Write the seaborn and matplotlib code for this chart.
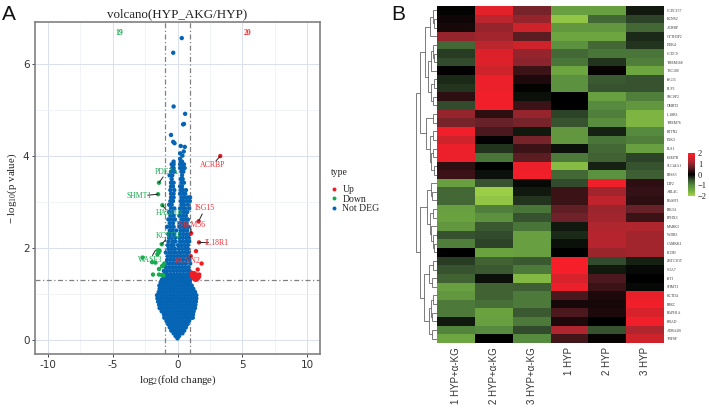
import matplotlib
matplotlib.use("Agg")
import matplotlib.pyplot as plt
from matplotlib.colors import LinearSegmentedColormap
import numpy as np
import pandas as pd
import seaborn as sns

sns.set_theme(style="white")
plt.rcParams["font.family"] = ["Liberation Serif", "DejaVu Serif"]
plt.rcParams["mathtext.fontset"] = "custom"
plt.rcParams["mathtext.rm"] = "Liberation Serif"
plt.rcParams["mathtext.it"] = "Liberation Serif"

# ---------- volcano data ----------
nd_levels = [0.03, 0.08, 0.14, 0.20, 0.27, 0.34, 0.41, 0.48, 0.55, 0.62, 0.69, 0.76, 0.83, 0.90, 0.97, 1.04, 1.11,
             1.18, 1.25, 1.31, 1.36, 1.42, 1.50, 1.58, 1.66, 1.74, 1.82, 1.90, 1.98, 2.06, 2.14, 2.22, 2.30, 2.38,
             2.46, 2.54, 2.62, 2.70, 2.78, 2.86, 2.94, 3.02, 3.10, 3.18, 3.26, 3.34, 3.42, 3.50, 3.58, 3.66, 3.74,
             3.82, 3.88, 3.94, 4.01, 4.06, 4.10, 4.20, 4.22, 4.28, 4.31, 4.46, 4.69, 4.70, 4.92, 5.08, 6.25, 6.57]
nd_x = [
    [0.00],
    [-0.15, 0.12],
    [-0.30, -0.05, 0.20, 0.38],
    [-0.48, -0.22, 0.03, 0.28, 0.52],
    [-0.60, -0.35, -0.10, 0.15, 0.40, 0.65],
    [-0.72, -0.47, -0.22, 0.03, 0.28, 0.53, 0.78],
    [-0.85, -0.60, -0.35, -0.10, 0.15, 0.40, 0.65, 0.90],
    [-1.02, -0.72, -0.47, -0.22, 0.03, 0.28, 0.53, 0.78, 1.03, 1.18],
    [-1.05, -0.80, -0.55, -0.30, -0.05, 0.20, 0.45, 0.70, 0.95, 1.20],
    [-1.22, -1.00, -0.90, -0.65, -0.40, -0.15, 0.10, 0.35, 0.60, 0.85, 1.10, 1.25],
    [-1.38, -1.22, -0.97, -0.72, -0.47, -0.22, 0.03, 0.28, 0.53, 0.78, 1.03, 1.28, 1.35],
    [-1.42, -1.28, -1.05, -0.80, -0.55, -0.30, -0.05, 0.20, 0.45, 0.70, 0.95, 1.20, 1.38],
    [-1.50, -1.35, -1.12, -0.87, -0.62, -0.37, -0.12, 0.13, 0.38, 0.63, 0.88, 1.13, 1.38, 1.42],
    [-1.55, -1.45, -1.20, -0.95, -0.70, -0.45, -0.20, 0.05, 0.30, 0.55, 0.80, 1.05, 1.30, 1.45],
    [-1.58, -1.50, -1.25, -1.00, -0.75, -0.50, -0.25, 0.00, 0.25, 0.50, 0.75, 1.00, 1.25, 1.45],
    [-1.45, -1.30, -1.05, -0.80, -0.55, -0.30, -0.05, 0.20, 0.45, 0.70, 0.95, 1.20, 1.35],
    [-1.38, -1.22, -0.97, -0.72, -0.47, -0.22, 0.03, 0.28, 0.53, 0.78, 1.03, 1.22],
    [-1.40, -1.15, -0.90, -0.65, -0.40, -0.15, 0.10, 0.35, 0.60, 0.85, 1.10],
    [-1.30, -1.05, -0.80, -0.55, -0.30, -0.05, 0.20, 0.45, 0.70, 0.95],
    [-1.20, -0.95, -0.70, -0.45, -0.20, 0.05, 0.30, 0.55, 0.80, 0.98],
    [-1.05, -0.80, -0.55, -0.30, -0.05, 0.20, 0.45, 0.70, 0.95],
    [-0.95, -0.75, -0.50, -0.25, 0.00, 0.25, 0.50, 0.75, 0.95],
    [-1.05, -0.80, -0.55, -0.30, -0.05, 0.20, 0.45, 0.70, 0.92],
    [-0.90, -0.65, -0.40, -0.15, 0.10, 0.35, 0.60, 0.85],
    [-0.85, -0.60, -0.35, -0.10, 0.15, 0.40, 0.65, 0.98],
    [-0.80, -0.55, -0.30, -0.05, 0.20, 0.45, 0.70, 0.90],
    [-0.75, -0.50, -0.25, 0.00, 0.25, 0.50, 0.75],
    [-0.90, -0.60, -0.35, -0.12, 0.15, 0.40, 0.65, 0.85],
    [-0.70, -0.45, -0.20, 0.10, 0.35, 0.60, 0.80],
    [-0.75, -0.50, -0.30, 0.05, 0.30, 0.55, 0.80],
    [-0.70, -0.40, -0.15, 0.20, 0.45, 0.70, 0.90],
    [-0.65, -0.45, -0.20, 0.15, 0.40, 0.65, 0.85],
    [-0.70, -0.50, -0.25, 0.20, 0.45, 0.70, 0.95],
    [-0.60, -0.40, -0.10, 0.25, 0.50, 0.75],
    [-0.80, -0.55, -0.30, 0.15, 0.40, 0.60, 0.85],
    [-0.60, -0.35, 0.20, 0.45, 0.70],
    [-0.70, -0.45, -0.20, 0.30, 0.55, 0.80],
    [-0.55, -0.30, 0.15, 0.40, 0.65],
    [-0.65, -0.40, 0.25, 0.50, 0.75],
    [-0.50, -0.25, 0.20, 0.40, 0.60, 0.90],
    [-0.64, -0.45, 0.30, 0.50, 0.80],
    [-0.55, -0.35, 0.25, 0.45, 0.70, 0.95],
    [-0.50, -0.30, 0.30, 0.55, 0.80, 0.97],
    [-0.50, -0.30, 0.20, 0.45, 0.60],
    [-0.55, -0.25, 0.25, 0.40, 0.65],
    [-0.50, -0.35, 0.20, 0.35],
    [-0.50, -0.30, 0.30, 0.50],
    [-0.45, 0.25, 0.40],
    [-0.61, -0.40, 0.35],
    [-0.50, -0.25, 0.30, 0.45],
    [-0.40, -0.30, 0.20, 0.40, 0.55],
    [-0.45, -0.30, 0.20, 0.35, 0.50],
    [-0.30, 0.25, 0.35],
    [0.20],
    [0.38],
    [0.20],
    [0.48],
    [0.56],
    [0.25],
    [-0.23],
    [-0.33],
    [-0.50],
    [0.43],
    [0.50],
    [0.59],
    [-0.30],
    [-0.33],
    [0.33],
]
up_x = [3.30, 1.63, 1.05, 1.66, 1.43, 1.02, 1.86, 1.56, 1.10, 1.30, 1.68, 1.48, 1.66, 1.28, 1.43, 1.58, 1.22, 1.35, 1.48, 1.10]
up_y = [4.00, 2.58, 2.32, 2.12, 1.93, 1.82, 1.66, 1.53, 1.46, 1.45, 1.42, 1.42, 1.37, 1.38, 1.34, 1.34, 1.34, 1.31, 1.31, 1.39]
down_x = [-1.43, -1.50, -1.17, -1.22, -1.50, -1.38, -1.45, -2.70, -1.96, -1.70, -1.02, -1.12, -1.20, -1.43, -1.89, -1.43, -1.22, -1.07, -1.55]
down_y = [3.42, 3.17, 2.93, 2.08, 1.95, 1.94, 1.90, 1.79, 1.69, 1.68, 1.66, 1.62, 1.60, 1.54, 1.42, 1.42, 1.41, 1.40, 1.86]
type_order = ["Up", "Down", "Not DEG"]
type_colors = ["#ee1c25", "#17ab4f", "#0565b4"]
x_ticks = [-10, -5, 0, 5, 10]
x_tick_labels = ["-10", "-5", "0", "5", "10"]
y_ticks = [0, 2, 4, 6]
count_down = "19"
count_up = "20"

gene_names = ["PDE7A", "SHMT1", "HASPIN", "KCTD4", "WASF3", "ACRBP", "ISG15", "TMEM56", "IL18R1", "KCNN2"]
gene_px = [-1.43, -1.50, -1.17, -1.22, -1.70, 3.30, 1.63, 1.05, 1.66, 1.02]
gene_py = [3.42, 3.17, 2.93, 2.08, 1.95, 4.00, 2.58, 2.32, 2.12, 1.82]
gene_lx = [-0.84, -2.96, -0.64, -0.69, -2.12, 2.70, 2.14, 1.02, 3.00, 0.82]
gene_ly = [3.65, 3.13, 2.75, 2.25, 1.74, 3.81, 2.87, 2.50, 2.11, 1.72]
gene_colors = ["#17ab4f"] * 5 + ["#e8323a"] * 5

# ---------- heatmap data ----------
row_names = ["CCDC157", "KCNS2", "ACRBP", "CYTH3P2", "DOK4", "CCDC9", "TMEM168", "TRC100", "ISG15", "ELF3", "SRCSP2",
             "DMRT2", "IL18R1", "TMEM76", "RTTN2", "PAK3", "PLS1", "FAM7B", "SLC44A1", "PRSS3", "DIP2", "ARL4C",
             "RASIP1", "PIK3A", "EPHX3", "MARK3", "WDR3", "CAMKK1", "PCDH", "ZBTC3OT", "COA7", "ISTI", "SHMT1",
             "KCTD4", "PRRC", "RAPH1A", "BNAD", "ADRA2B", "TNFSF"]
col_names = ["1 HYP+\u03b1-KG", "2 HYP+\u03b1-KG", "3 HYP+\u03b1-KG", "1 HYP", "2 HYP", "3 HYP"]
col_a = [-.02, .10, .15, 1.0, -.7, -.35, -.45, .02, -.25, -.3, .3, -.45, 1.0, .8, 1.85, 1.5, 1.8, 1.8, .3, .4,
         -1.3, -.7, -.7, -1.3, -1.35, -1.2, -.5, -.9, 0, -.35, -.5, -.65, -1.3, -1.2, -.85, -.85, -.15, -.95, -1.4]
col_b = [1.7, 1.3, 1.0, 1.1, 1.3, 1.65, 1.65, 1.5, 1.8, 1.8, 1.85, 1.85, .3, .7, .5, .02, -.3, -.8, 0, -.1,
         -.5, -1.9, -1.8, -.9, -1.1, -.55, -.45, -.4, -1.35, -.65, -.55, -.1, -.65, -.65, -.75, -1.35, -1.3, -1.0, 0]
col_c = [.8, 1.0, 1.5, .6, 1.5, 1.0, .95, .4, .2, -.02, -.1, .4, 1.0, .8, -.15, .8, .4, .6, 1.8, 1.85,
         -.05, -.15, -.3, -.8, -.5, -.8, -1.3, -1.3, -1.3, -.55, -.85, -1.65, -.6, -.85, -.85, -.55, -.85, -.45, -1.0]
col_d = [-1.3, -1.8, -1.2, -1.4, -1.1, -.7, -.8, -1.4, -1.1, -1.1, 0, 0, -.4, -.5, -1.2, -1.2, -.1, -.85, -1.7, -.7,
         -.45, .4, .4, .65, .75, -.15, -.25, -.1, 0, 1.9, 1.9, 1.6, 1.8, .5, .15, .5, .2, 1.2, .45]
col_e = [-1.3, -.7, -1.2, -1.4, -.7, -.8, -.3, .05, -.55, -.5, -1.3, -1.0, -.9, -1.05, -.2, -.8, -.7, -.65, -.2, -1.1,
         1.85, 1.1, 1.35, 1.05, 1.1, 1.2, 1.25, 1.25, 1.05, -.45, -.15, .5, .4, .2, .15, .2, 0, -.5, .05]
col_f = [-.15, -.4, -.7, -.25, -.3, -.8, -.9, -1.4, -.5, -.5, -.9, -1.2, -1.6, -1.6, -1.0, -.9, -1.3, -.4, -.5, -.6,
         .3, .35, .3, .7, .4, 1.2, 1.1, 1.1, 1.1, -.2, -.05, 0, -.05, 1.75, 1.85, 1.6, 1.85, 1.2, 1.5]
cbar_ticks = [-2, -1, 0, 1, 2]
cbar_labels = ["\u22122", "\u22121", "0", "1", "2"]

# row dendrogram: (height in px, child, child); ints are row numbers
row_tree = (21, (17, (12, (6.5, (4, 0, (3, 1, 2)), 3),
                      (8.5, (5.5, (4, 4, (3, 5, 6)), 7),
                       (6, (3, 8, 9), (4, 10, 11)))),
                 (11, (4, 12, 13),
                  (7, (4, 14, 15), (5.5, (3.5, 16, 17), (3, 18, 19))))),
            (16.7, (10, (6, 20, (4.5, 21, 22)),
                    (6.5, (3.5, 23, 24), (5.5, 25, (3.5, 26, (2.5, 27, 28))))),
             (13, (8, (4, 29, 30), (5, 31, 32)),
              (8, (6, (4, 33, 34), (4.5, 35, 36)), (5, 37, 38)))))

# ---------- figure ----------
W, H = 709, 409
fig = plt.figure(figsize=(W / 100, H / 100), dpi=100)


def box(left, top, right, bottom):
    return [left / W, 1 - bottom / H, (right - left) / W, (bottom - top) / H]


# ---------- volcano ----------
ax = fig.add_axes(box(35, 22, 320, 354))
nd_xs = [v for row in nd_x for v in row]
nd_ys = [lev for lev, row in zip(nd_levels, nd_x) for _ in row]
df = pd.DataFrame({
    "fc": nd_xs + down_x + up_x,
    "p": nd_ys + down_y + up_y,
    "type": ["Not DEG"] * len(nd_xs) + ["Down"] * len(down_x) + ["Up"] * len(up_x),
})
sns.scatterplot(data=df, x="fc", y="p", hue="type", hue_order=type_order, palette=type_colors,
                s=10, linewidth=0, ax=ax, zorder=3)
ax.set_xlim(-11, 11)
ax.set_ylim(-0.31, 6.92)
ax.set_xticks(x_ticks)
ax.set_xticklabels(x_tick_labels)
ax.set_yticks(y_ticks)
ax.set_xticks([-7.5, -2.5, 2.5, 7.5], minor=True)
ax.set_yticks([1, 3, 5], minor=True)
ax.grid(True, which="major", color="#d9e1ec", lw=0.7, zorder=0)
ax.grid(True, which="minor", color="#eaeff5", lw=0.5, zorder=0)
ax.set_axisbelow(True)
ax.tick_params(axis="both", which="major", labelsize=7.5, labelcolor="#333333", length=2.5, width=0.7,
               color="#444444", pad=1.5, bottom=True, left=True)
ax.tick_params(axis="both", which="minor", length=0)
for lab in ax.get_xticklabels() + ax.get_yticklabels():
    lab.set_family("DejaVu Sans")
for sp in ax.spines.values():
    sp.set_color("#808080")
    sp.set_linewidth(1.2)
for v in (-1, 1):
    ax.axvline(v, color="#808080", lw=0.9, ls=(0, (4, 2, 1, 2)), zorder=2)
ax.axhline(1.3, color="#808080", lw=0.9, ls=(0, (4, 2, 1, 2)), zorder=2)
ax.set_title("volcano(HYP_AKG/HYP)", fontsize=9.4, pad=3.5, color="#222222")
ax.set_xlabel(r"$\mathrm{log_2(fold\ change)}$", fontsize=7.8, labelpad=3, color="#222222")
ax.set_ylabel(r"$\mathrm{-\ log_{10}(p\ value)}$", fontsize=7.8, labelpad=3, color="#222222")
ax.text(-4.5, 6.67, count_down, color="#17ab4f", fontsize=5.6, weight="bold", ha="center", va="center")
ax.text(5.4, 6.67, count_up, color="#e8323a", fontsize=5.6, weight="bold", ha="center", va="center")
for name, px, py, lx, ly, c in zip(gene_names, gene_px, gene_py, gene_lx, gene_ly, gene_colors):
    # leader stops short of the label centre
    ax.plot([px, px + (lx - px) * 0.55], [py, py + (ly - py) * 0.55], color="#222222", lw=0.7, zorder=4)
    ax.text(lx, ly, name, color=c, fontsize=5.6, ha="center", va="center", zorder=5)
sns.move_legend(ax, "upper left", bbox_to_anchor=(324 / W, 1 - 161 / H), bbox_transform=fig.transFigure,
                title="type", frameon=False, fontsize=7, title_fontsize=7, labelspacing=0.05, handlelength=0.6,
                handletextpad=0.6, borderpad=0.2, markerscale=0.9, alignment="left")
ax.get_legend()._legend_box.sep = 6

fig.text(9 / W, 1 - 14 / H, "A", fontsize=15, family="Liberation Sans", ha="center", va="center", color="#111111")
fig.text(398 / W, 1 - 14 / H, "B", fontsize=15, family="Liberation Sans", ha="center", va="center", color="#111111")

# ---------- heatmap ----------
cmap = LinearSegmentedColormap.from_list("gbr", [(0, "#a5d548"), (0.12, "#74ad41"), (0.25, "#568a3e"),
                                                 (0.38, "#36502f"), (0.5, "#000000"), (0.68, "#6a2229"),
                                                 (0.8, "#b0262f"), (1, "#ff1e28")])
mat = pd.DataFrame({n: v for n, v in zip(col_names, [col_a, col_b, col_c, col_d, col_e, col_f])}, index=row_names)
hax = fig.add_axes(box(437, 6, 664, 343))
cax = fig.add_axes(box(688, 153, 695, 196))
sns.heatmap(mat, ax=hax, cmap=cmap, vmin=-2, vmax=2, cbar_ax=cax, linewidths=0, xticklabels=True, yticklabels=True,
            rasterized=True, cbar_kws={"ticks": cbar_ticks})
hax.yaxis.tick_right()
hax.tick_params(axis="y", labelsize=2.7, length=0, pad=2, labelrotation=0, labelcolor="#333333")
hax.tick_params(axis="x", labelsize=7, length=0, pad=3, labelrotation=90, labelcolor="#333333")
for lab in hax.get_xticklabels():
    lab.set_family("Liberation Sans")
hax.set_xlabel("")
hax.set_ylabel("")
cax.set_yticklabels(cbar_labels)
cax.tick_params(axis="y", labelsize=6, length=1.5, width=0.4, color="white", direction="in", pad=2,
                labelcolor="#222222")
hax.collections[0].colorbar.outline.set_visible(False)

# ---------- row dendrogram ----------
dax = fig.add_axes(box(415, 6, 437, 343))
dax.set_xlim(22, 0)
dax.set_ylim(39, 0)
dax.axis("off")


def draw(node):
    if isinstance(node, int):
        return 0, node + 0.5
    h, a, b = node
    ha, ya = draw(a)
    hb, yb = draw(b)
    dax.plot([ha, h, h, hb], [ya, ya, yb, yb], color="#666666", lw=0.6, solid_joinstyle="miter")
    return h, (ya + yb) / 2


draw(row_tree)

fig.savefig("out.png", dpi=100, facecolor="white")
